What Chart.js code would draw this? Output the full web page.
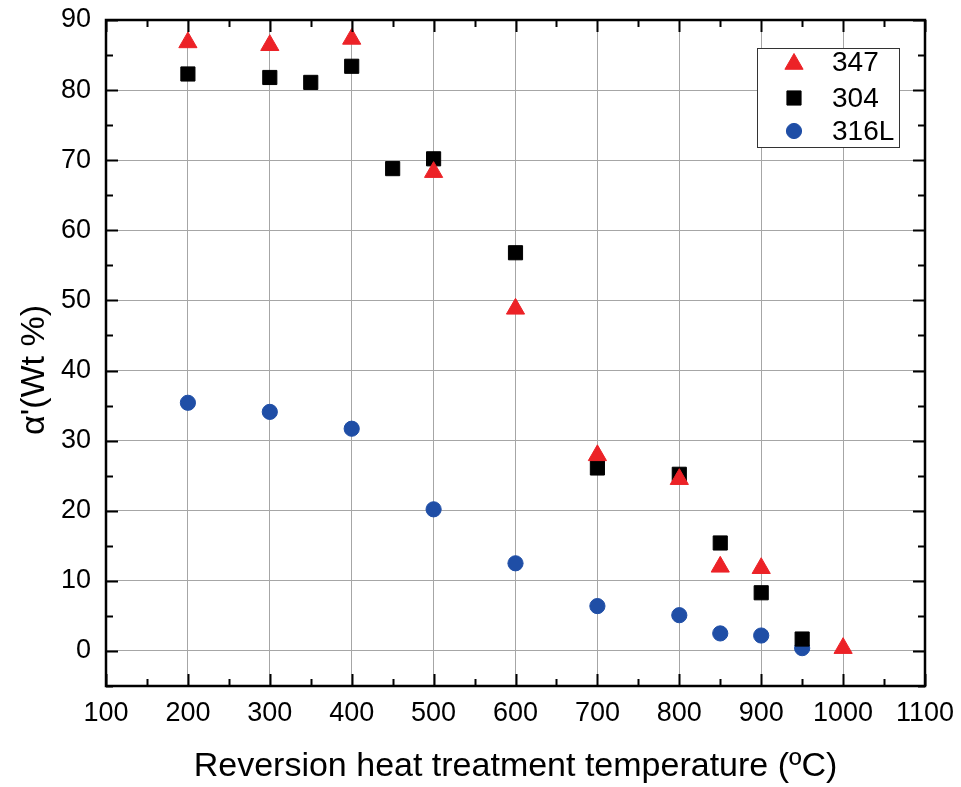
<!DOCTYPE html>
<html>
<head>
<meta charset="utf-8">
<script src="https://cdn.jsdelivr.net/npm/chart.js@4/dist/chart.umd.min.js"></script>
<style>
  body { margin: 0; background: #fff; }
  canvas { display: block; }
</style>
</head>
<body>
<canvas id="reversionChart" width="961" height="787"></canvas>
<script>
// --- data ---
const temps347 = [200, 300, 400, 500, 600, 700, 800, 850, 900, 1000];
const alpha347 = [86.8, 86.4, 87.3, 68.3, 48.8, 27.9, 24.5, 12.0, 11.8, 0.4];

const temps304 = [200, 300, 350, 400, 450, 500, 600, 700, 800, 850, 900, 950];
const alpha304 = [82.3, 81.8, 81.1, 83.4, 68.8, 70.2, 56.8, 26.1, 25.2, 15.4, 8.3, 1.7];

const temps316L = [200, 300, 400, 500, 600, 700, 800, 850, 900, 950];
const alpha316L = [35.4, 34.1, 31.7, 20.2, 12.5, 6.4, 5.1, 2.5, 2.2, 0.4];

const xTitle = 'Reversion heat treatment temperature (ºC)';
const yTitle = "α'(Wt %)";

const FONT = '"Liberation Sans", Arial, sans-serif';
const GRID = '#a6a6a6';

const toPoints = (xs, ys) => xs.map((x, i) => ({ x: x, y: ys[i] }));

// frame, inward ticks and axis titles
const framePlugin = {
    id: 'frame',
    afterDatasetsDraw(chart) {
        const { ctx, chartArea: a, scales } = chart;
        ctx.save();
        ctx.strokeStyle = '#000';
        ctx.lineWidth = 2;
        ctx.beginPath();
        // x ticks every 50, major every 100
        for (let v = 100; v <= 1100; v += 50) {
            const px = Math.round(scales.x.getPixelForValue(v)) + 0.5;
            const len = v % 100 === 0 ? 12 : 7;
            ctx.moveTo(px, a.bottom); ctx.lineTo(px, a.bottom - len);
            ctx.moveTo(px, a.top); ctx.lineTo(px, a.top + len);
        }
        // y ticks every 5, major every 10
        for (let v = -5; v <= 90; v += 5) {
            const py = Math.round(scales.y.getPixelForValue(v)) + 0.5;
            const len = v % 10 === 0 ? 12 : 7;
            ctx.moveTo(a.left, py); ctx.lineTo(a.left + len, py);
            ctx.moveTo(a.right, py); ctx.lineTo(a.right - len, py);
        }
        ctx.stroke();
        ctx.lineWidth = 2.5;
        ctx.strokeRect(a.left, a.top, a.right - a.left, a.bottom - a.top);

        // axis titles
        ctx.fillStyle = '#000';
        ctx.font = '34px ' + FONT;
        ctx.textAlign = 'center';
        ctx.textBaseline = 'alphabetic';
        ctx.fillText(xTitle, (a.left + a.right) / 2, 776);
        ctx.translate(44, 370);
        ctx.rotate(-Math.PI / 2);
        ctx.fillText(yTitle, 0, 0);
        ctx.restore();
    }
};

// boxed legend in the upper right corner
const legendPlugin = {
    id: 'boxLegend',
    afterDraw(chart) {
        const { ctx } = chart;
        const rows = [62, 98, 131];
        ctx.save();
        ctx.fillStyle = '#fff';
        ctx.fillRect(757, 48, 142, 99);
        ctx.strokeStyle = '#333';
        ctx.lineWidth = 1;
        ctx.strokeRect(757.5, 48.5, 142, 99);
        chart.data.datasets.forEach((ds, i) => {
            ctx.fillStyle = ds.backgroundColor;
            ctx.strokeStyle = ds.borderColor;
            ctx.lineWidth = 1;
            Chart.helpers.drawPoint(ctx, {
                pointStyle: ds.pointStyle,
                radius: ds.pointRadius,
                rotation: 0,
                borderWidth: 1
            }, 794, rows[i] + (ds.pointStyle === 'triangle' ? 2 : 0));
            ctx.fillStyle = '#000';
            ctx.font = '28px ' + FONT;
            ctx.textAlign = 'left';
            ctx.textBaseline = 'middle';
            ctx.fillText(ds.label, 832, rows[i] + 1);
        });
        ctx.restore();
    }
};

new Chart(document.getElementById('reversionChart'), {
    type: 'scatter',
    data: {
        datasets: [
            {
                label: '347',
                data: toPoints(temps347, alpha347),
                pointStyle: 'triangle',
                pointRadius: 10.5,
                backgroundColor: '#ec2227',
                borderColor: '#ec2227',
                borderWidth: 1
            },
            {
                label: '304',
                data: toPoints(temps304, alpha304),
                pointStyle: 'rect',
                pointRadius: 10,
                backgroundColor: '#000000',
                borderColor: '#000000',
                borderWidth: 1
            },
            {
                label: '316L',
                data: toPoints(temps316L, alpha316L),
                pointStyle: 'circle',
                pointRadius: 7.6,
                backgroundColor: '#1f4ea6',
                borderColor: '#1f4ea6',
                borderWidth: 1
            }
        ]
    },
    options: {
        responsive: false,
        animation: false,
        layout: { padding: { top: 20, right: 36, left: 0, bottom: 0 } },
        plugins: {
            legend: { display: false },
            tooltip: { enabled: false }
        },
        scales: {
            x: {
                type: 'linear',
                min: 100,
                max: 1100,
                afterFit: (scale) => {
                    scale.height = 101;
                    scale.paddingLeft = 0;
                    scale.paddingRight = 0;
                },
                border: { display: false },
                grid: {
                    drawTicks: false,
                    color: (c) => (c.tick && c.tick.value % 100 === 0 && c.tick.value > 100 && c.tick.value < 1100) ? GRID : 'rgba(0,0,0,0)',
                    lineWidth: 1
                },
                ticks: {
                    stepSize: 50,
                    autoSkip: false,
                    maxRotation: 0,
                    padding: 11,
                    color: '#000',
                    font: { family: FONT, size: 27 },
                    callback: (v) => (v % 100 === 0 ? v : '')
                }
            },
            y: {
                min: -5,
                max: 90,
                afterFit: (scale) => {
                    scale.width = 106;
                    scale.paddingTop = 0;
                    scale.paddingBottom = 0;
                },
                border: { display: false },
                grid: {
                    drawTicks: false,
                    color: (c) => (c.tick && c.tick.value % 10 === 0 && c.tick.value < 90) ? GRID : 'rgba(0,0,0,0)',
                    lineWidth: 1
                },
                ticks: {
                    stepSize: 5,
                    autoSkip: false,
                    padding: 15,
                    color: '#000',
                    font: { family: FONT, size: 27 },
                    callback: (v) => (v % 10 === 0 ? v : '')
                }
            }
        }
    },
    plugins: [framePlugin, legendPlugin]
});
</script>
</body>
</html>
